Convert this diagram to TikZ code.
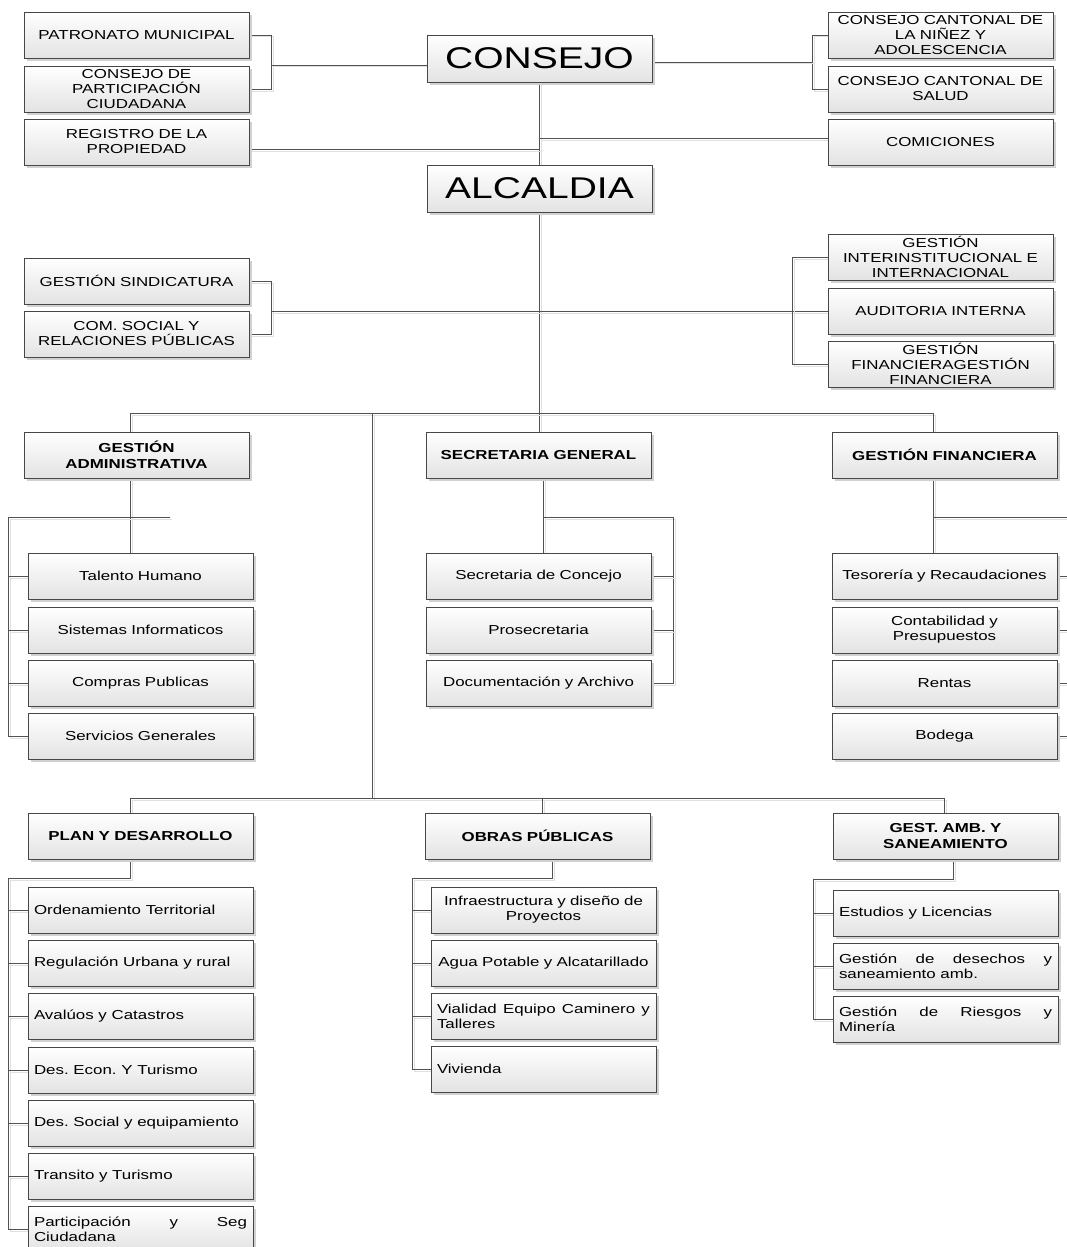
\documentclass[tikz,border=0pt]{standalone}
\usepackage{fontspec}
\setmainfont[FakeStretch=1.3]{Liberation Sans}
\usetikzlibrary{shadows,backgrounds}
\frenchspacing

\begin{document}
\begin{tikzpicture}[x=1pt,y=-1pt,
  orgbox/.style={draw=black!72, line width=0.8pt, top color=white, bottom color=black!11,
    drop shadow={shadow xshift=3pt, shadow yshift=-3pt, fill=black!18, opacity=1},
    anchor=north west, text width=213pt, inner xsep=6pt, inner ysep=0pt, outer sep=0pt,
    minimum height=46pt, align=center, font=\fontsize{13}{15}\selectfont},
  headbox/.style={orgbox, font=\bfseries\fontsize{13}{16}\selectfont},
  mainbox/.style={orgbox, minimum height=47pt, font=\fontsize{30}{34}\selectfont},
  leftbox/.style={orgbox, align=justify},
  wire/.style={draw=black!68, line width=0.8pt,
    preaction={draw=black!12, line width=1pt, transform canvas={shift={(2pt,-2pt)}}}}
]
\useasboundingbox (0,0) rectangle (1067,1247);
\clip (0,0) rectangle (1067,1247);

% ---------- governing bodies ----------
\node[orgbox] (pat) at (24,12) {PATRONATO MUNICIPAL};
\node[orgbox] (cpc) at (24,66) {CONSEJO DE\\PARTICIPACIÓN\\CIUDADANA};
\node[orgbox] (reg) at (24,119) {REGISTRO DE LA\\PROPIEDAD};
\node[mainbox] (consejo) at (427,35) {CONSEJO};
\node[orgbox] (ccn) at (828,12) {CONSEJO CANTONAL DE\\LA NIÑEZ Y\\ADOLESCENCIA};
\node[orgbox] (ccs) at (828,66) {CONSEJO CANTONAL DE\\SALUD};
\node[orgbox] (com) at (828,119) {COMICIONES};
\node[mainbox] (alc) at (427,165) {ALCALDIA};

% ---------- advisory units ----------
\node[orgbox] (gs) at (24,258) {GESTIÓN SINDICATURA};
\node[orgbox] (cs) at (24,311) {COM. SOCIAL Y\\RELACIONES PÚBLICAS};
\node[orgbox] (gii) at (828,234) {GESTIÓN\\INTERINSTITUCIONAL E\\INTERNACIONAL};
\node[orgbox] (ai) at (828,288) {AUDITORIA INTERNA};
\node[orgbox] (gfg) at (828,341) {GESTIÓN\\FINANCIERAGESTIÓN\\FINANCIERA};

% ---------- support departments ----------
\node[headbox] (ga) at (24,432) {GESTIÓN\\ADMINISTRATIVA};
\node[headbox] (sg) at (426,432) {SECRETARIA GENERAL};
\node[headbox] (gf) at (832,432) {GESTIÓN FINANCIERA};

\node[orgbox] (th)  at (28,553) {Talento Humano};
\node[orgbox] (si)  at (28,607) {Sistemas Informaticos};
\node[orgbox] (cp)  at (28,660) {Compras Publicas};
\node[orgbox] (sgn) at (28,713) {Servicios Generales};

\node[orgbox] (sc) at (426,553) {Secretaria de Concejo};
\node[orgbox] (ps) at (426,607) {Prosecretaria};
\node[orgbox] (da) at (426,660) {Documentación y Archivo};

\node[orgbox] (tr)  at (832,553) {Tesorería y Recaudaciones};
\node[orgbox] (cop) at (832,607) {Contabilidad y\\Presupuestos};
\node[orgbox] (ren) at (832,660) {Rentas};
\node[orgbox] (bod) at (832,713) {Bodega};

% ---------- operative departments ----------
\node[headbox] (pd)  at (28,813) {PLAN Y DESARROLLO};
\node[headbox] (op)  at (425,813) {OBRAS PÚBLICAS};
\node[headbox] (gam) at (833,813) {GEST. AMB. Y\\SANEAMIENTO};

\node[leftbox] (p1) at (28,887)  {Ordenamiento Territorial};
\node[leftbox] (p2) at (28,940)  {Regulación Urbana y rural};
\node[leftbox] (p3) at (28,993)  {Avalúos y Catastros};
\node[leftbox] (p4) at (28,1047) {Des. Econ. Y Turismo};
\node[leftbox] (p5) at (28,1100) {Des. Social y equipamiento};
\node[leftbox] (p6) at (28,1153) {Transito y Turismo};
\node[leftbox] (p7) at (28,1206) {Participación y Seg\linebreak Ciudadana};

\node[orgbox]  (o1) at (431,887)  {Infraestructura y diseño de\\Proyectos};
\node[orgbox]  (o2) at (431,940)  {Agua Potable y Alcatarillado};
\node[leftbox] (o3) at (431,993)  {Vialidad Equipo Caminero y\linebreak Talleres};
\node[leftbox] (o4) at (431,1046) {Vivienda};

\node[leftbox] (a1) at (833,890) {Estudios y Licencias};
\node[leftbox] (a2) at (833,943) {Gestión de desechos y\linebreak saneamiento amb.};
\node[leftbox] (a3) at (833,996) {Gestión de Riesgos y\linebreak Minería};

% ---------- connectors ----------
\begin{pgfonlayer}{background}
\fill[white] (0,0) rectangle (1067,1247);

% council level
\draw[wire] (pat.east) -- ++(22,0) coordinate (kl) |- (cpc.east);
\draw[wire] (kl |- 0,65) -- (consejo.west |- 0,65);
\draw[wire] (ccn.west) -- ++(-16,0) coordinate (kr) |- (ccs.west);
\draw[wire] (consejo.east |- 0,62) -- (kr |- 0,62);
\draw[wire] (consejo.south) -- (alc.north);
\draw[wire] (reg.east |- 0,149) -- (consejo.south |- 0,149);
\draw[wire] (com.west |- 0,138) -- (consejo.south |- 0,138);

% mayoralty level
\draw[wire] (alc.south) -- (alc.south |- sg.north);
\draw[wire] (gs.east) -- ++(22,0) coordinate (ml) |- (cs.east);
\draw[wire] (ml |- ai.west) -- (ai.west);
\draw[wire] (gii.west) -- ++(-36,0) coordinate (mr) |- (gfg.west);

% department branches
\coordinate (b1) at (130,413);
\coordinate (b2) at (933,413);
\coordinate (b3) at (372,413);
\coordinate (c1) at (130,798);
\coordinate (c2) at (944,798);
\coordinate (c3) at (542,798);
\coordinate (c4) at (372,798);
\draw[wire] (ga.north -| b1) -- (b1) -- (b2) -- (gf.north -| b2);
\draw[wire] (b3) -- (c4);
\draw[wire] (pd.north -| c1) -- (c1) -- (c2) -- (gam.north -| c2);
\draw[wire] (c3) -- (op.north -| c3);

% administrative management
\coordinate (g1) at (8,517);
\coordinate (g2) at (170,517);
\draw[wire] (ga.south -| b1) -- (th.north -| b1);
\draw[wire] (g2) -- (g1) |- (sgn.west);
\foreach \n in {th,si,cp} \draw[wire] (\n.west -| g1) -- (\n.west);

% general secretariat
\coordinate (s1) at (543,517);
\coordinate (s2) at (673,517);
\draw[wire] (sg.south -| s1) -- (sc.north -| s1);
\draw[wire] (s1) -- (s2) |- (da.east);
\foreach \n in {sc,ps} \draw[wire] (\n.east) -- (\n.east -| s2);

% financial management
\coordinate (f1) at (933,517);
\coordinate (f2) at (1067,517);
\draw[wire] (gf.south -| f1) -- (tr.north -| f1);
\draw[wire] (f1) -- (f2);
\foreach \n in {tr,cop,ren,bod} \draw[wire] (\n.east) -- (\n.east -| f2);

% planning
\coordinate (pp) at (130,878);
\coordinate (pl) at (8,878);
\draw[wire] (pd.south -| pp) -- (pp) -- (pl) |- (p7.west);
\foreach \n in {p1,p2,p3,p4,p5,p6} \draw[wire] (\n.west -| pl) -- (\n.west);

% public works
\coordinate (oo) at (552,878);
\coordinate (ol) at (412,878);
\draw[wire] (op.south -| oo) -- (oo) -- (ol) |- (o4.west);
\foreach \n in {o1,o2,o3} \draw[wire] (\n.west -| ol) -- (\n.west);

% environment
\coordinate (aa) at (953,879);
\coordinate (al) at (813,879);
\draw[wire] (gam.south -| aa) -- (aa) -- (al) |- (a3.west);
\foreach \n in {a1,a2} \draw[wire] (\n.west -| al) -- (\n.west);
\end{pgfonlayer}
\end{tikzpicture}
\end{document}
